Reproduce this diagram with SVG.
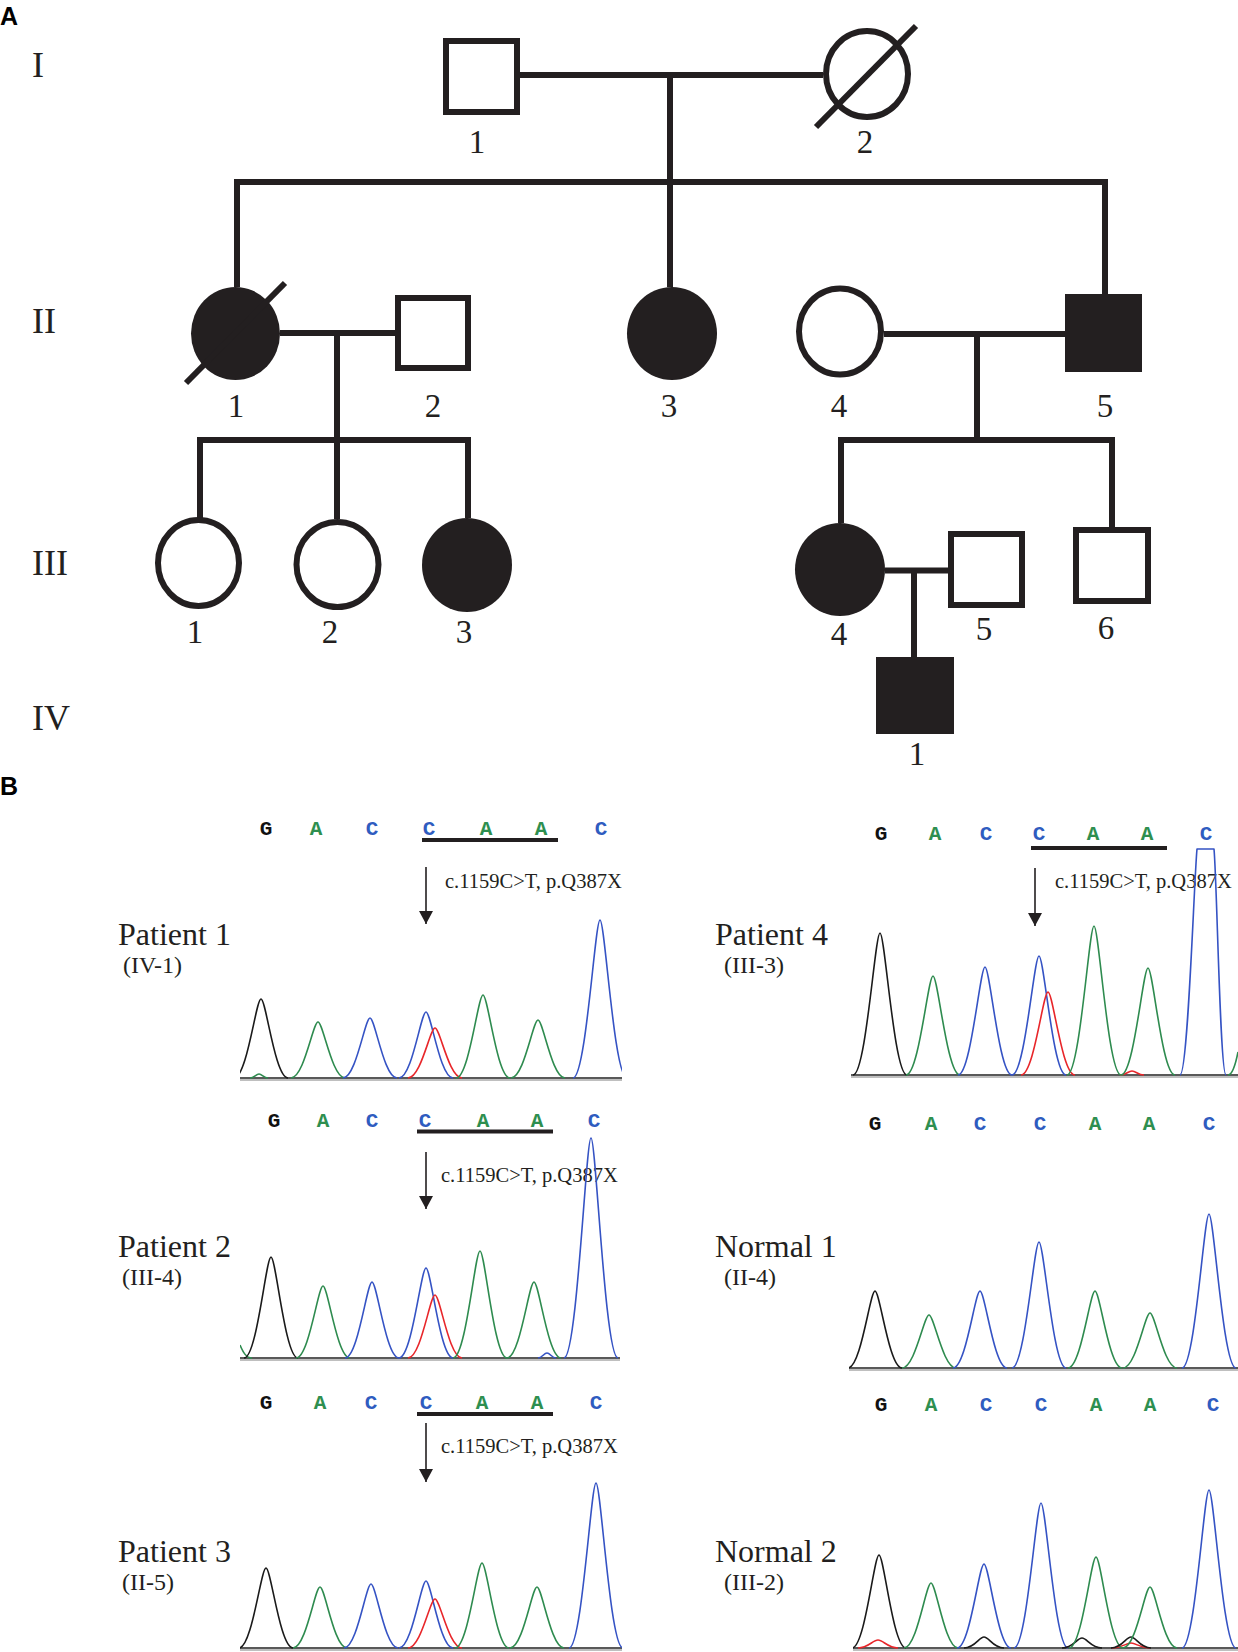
<svg xmlns="http://www.w3.org/2000/svg" width="1238" height="1652" viewBox="0 0 1238 1652">
<style>
.ln{fill:none;stroke:#231f20;stroke-width:6;stroke-linecap:butt;stroke-linejoin:miter}
.open{fill:#fff;stroke:#231f20;stroke-width:6}
.aff{fill:#231f20;stroke:none}
.slash{stroke:#231f20;stroke-width:6}
.gen{font-family:"Liberation Serif","Times New Roman",serif;font-size:36px;fill:#231f20}
.num{font-family:"Liberation Serif","Times New Roman",serif;font-size:33px;fill:#231f20;text-anchor:middle}
.panel{font-family:"Liberation Sans",Arial,sans-serif;font-weight:bold;font-size:25px;fill:#000}
.pt{font-family:"Liberation Serif","Times New Roman",serif;font-size:32px;fill:#231f20}
.sub{font-family:"Liberation Serif","Times New Roman",serif;font-size:24px;fill:#231f20}
.mut{font-family:"Liberation Serif","Times New Roman",serif;font-size:20.5px;fill:#231f20}
.seq{font-family:"Liberation Mono","Courier New",monospace;font-weight:bold;font-size:21px;text-anchor:middle}
.sG{fill:#111}
.sA{fill:#2e8f50}
.sC{fill:#2f5cc0}
.ul{stroke:#231f20;stroke-width:4}
.arr{stroke:#231f20;stroke-width:1.6;marker-end:url(#ah)}
.tk,.tg,.tb,.tr{fill:none;stroke-width:1.6;stroke-linejoin:round}
.tk{stroke:#1a1a1a}
.tg{stroke:#2e8b4f}
.tb{stroke:#3553c4}
.tr{stroke:#e8262a}
.base{stroke:#222;stroke-width:1.6}
.shadow{stroke:#aaa;stroke-width:1.5}
</style>
<defs>
<marker id="ah" markerUnits="userSpaceOnUse" viewBox="0 -7 13 14" markerWidth="13" markerHeight="14" refX="13" refY="0" orient="auto">
<path d="M0,-7 L13,0 L0,7 z" fill="#231f20"/>
</marker>
<clipPath id="cl1"><rect x="240" y="800" width="382" height="300"/></clipPath>
<clipPath id="cl4"><rect x="851" y="800" width="387" height="300"/></clipPath>
<clipPath id="cl2"><rect x="240" y="1100" width="380" height="280"/></clipPath>
<clipPath id="cln1"><rect x="849" y="1100" width="389" height="280"/></clipPath>
<clipPath id="cl3"><rect x="240" y="1420" width="382" height="240"/></clipPath>
<clipPath id="cln2"><rect x="853" y="1420" width="385" height="240"/></clipPath>
</defs>
<rect width="1238" height="1652" fill="#fff"/>

<text class="panel" x="0" y="25">A</text>
<text class="panel" x="0" y="795">B</text>

<g id="generations">
<text class="gen" x="32" y="77">I</text>
<text class="gen" x="32" y="333">II</text>
<text class="gen" x="32" y="575">III</text>
<text class="gen" x="32" y="730">IV</text>
</g>

<g id="connectors">
<path class="ln" d="M520,75 H823"/>
<path class="ln" d="M670,75 V287"/>
<path class="ln" d="M237,287 V182 H1105 V294"/>
<path class="ln" d="M280,333 H395"/>
<path class="ln" d="M337,333 V519"/>
<path class="ln" d="M200,518 V440 H468 V518"/>
<path class="ln" d="M884,334 H1065"/>
<path class="ln" d="M977,334 V440"/>
<path class="ln" d="M841,523 V440 H1112 V527"/>
<path class="ln" d="M885,570.5 H948"/>
<path class="ln" d="M914,570.5 V657"/>
</g>

<g id="I-1"><rect class="open" x="446" y="41" width="71" height="71"/><text class="num" x="477" y="153">1</text></g>
<g id="I-2"><ellipse class="open" cx="867" cy="74" rx="41" ry="43"/><line class="slash" x1="816" y1="127" x2="916" y2="26"/><text class="num" x="865" y="153">2</text></g>

<g id="II-1"><ellipse class="aff" cx="235.5" cy="333.5" rx="44.5" ry="46.5"/><line class="slash" x1="186" y1="383" x2="285" y2="283"/><text class="num" x="236" y="417">1</text></g>
<g id="II-2"><rect class="open" x="398" y="298" width="70" height="70"/><text class="num" x="433" y="417">2</text></g>
<g id="II-3"><ellipse class="aff" cx="672" cy="333.5" rx="45" ry="46.5"/><text class="num" x="669" y="417">3</text></g>
<g id="II-4"><ellipse class="open" cx="840" cy="331.5" rx="41" ry="43"/><text class="num" x="839" y="417">4</text></g>
<g id="II-5"><rect class="aff" x="1065" y="294" width="77" height="78"/><text class="num" x="1105" y="417">5</text></g>

<g id="III-1"><ellipse class="open" cx="198.5" cy="563" rx="40.5" ry="43"/><text class="num" x="195" y="643">1</text></g>
<g id="III-2"><ellipse class="open" cx="337.5" cy="564.5" rx="41" ry="42.5"/><text class="num" x="330" y="643">2</text></g>
<g id="III-3"><ellipse class="aff" cx="467" cy="565" rx="45" ry="47"/><text class="num" x="464" y="643">3</text></g>
<g id="III-4"><ellipse class="aff" cx="840" cy="569.5" rx="45" ry="46.5"/><text class="num" x="839" y="645">4</text></g>
<g id="III-5"><rect class="open" x="951" y="534" width="71" height="71"/><text class="num" x="984" y="640">5</text></g>
<g id="III-6"><rect class="open" x="1076" y="530" width="72" height="71"/><text class="num" x="1106" y="639">6</text></g>

<g id="IV-1"><rect class="aff" x="876" y="657" width="78" height="77"/><text class="num" x="917" y="765">1</text></g>

<!-- Panel B: Patient 1 -->
<g id="patient1">
<text class="seq sG" x="266" y="835">G</text><text class="seq sA" x="316" y="835">A</text><text class="seq sC" x="372" y="835">C</text><text class="seq sC" x="429" y="835">C</text><text class="seq sA" x="486" y="835">A</text><text class="seq sA" x="541" y="835">A</text><text class="seq sC" x="601" y="835">C</text>
<line class="ul" x1="422" y1="840" x2="558" y2="840"/>
<line class="arr" x1="426" y1="867" x2="426" y2="924"/>
<text class="mut" x="445" y="888">c.1159C&gt;T, p.Q387X</text>
<text class="pt" x="118" y="945">Patient 1</text>
<text class="sub" x="123" y="973">(IV-1)</text>
<line class="shadow" x1="240" y1="1080" x2="622" y2="1080"/>
<line class="base" x1="240" y1="1078" x2="622" y2="1078"/>
<g clip-path="url(#cl1)">
<path class="tg" d="M250,1078 C254,1078 256,1074 259,1074 C262,1074 264,1078 268,1078"/>
<path class="tk" d="M234,1078 C247,1078 256,999 261,999 C266,999 275,1078 288,1078"/>
<path class="tg" d="M291,1078 C304,1078 313,1022 318,1022 C323,1022 332,1078 345,1078"/>
<path class="tb" d="M343,1078 C356,1078 365,1018 370,1018 C375,1018 384,1078 397,1078"/>
<path class="tb" d="M399,1078 C412,1078 421,1012 426,1012 C431,1012 440,1078 453,1078"/>
<path class="tr" d="M408,1078 C421,1078 430,1028 435,1028 C440,1028 449,1078 462,1078"/>
<path class="tg" d="M456,1078 C469,1078 478,995 483,995 C488,995 497,1078 510,1078"/>
<path class="tg" d="M511,1078 C524,1078 533,1020 538,1020 C543,1020 552,1078 565,1078"/>
<path class="tb" d="M573,1078 C586,1078 595,920 600,920 C605,920 614,1078 627,1078"/>
</g>
</g>

<!-- Patient 4 -->
<g id="patient4">
<text class="seq sG" x="881" y="840">G</text><text class="seq sA" x="935" y="840">A</text><text class="seq sC" x="986" y="840">C</text><text class="seq sC" x="1039" y="840">C</text><text class="seq sA" x="1093" y="840">A</text><text class="seq sA" x="1147" y="840">A</text><text class="seq sC" x="1206" y="840">C</text>
<line class="ul" x1="1031" y1="848" x2="1167" y2="848"/>
<line class="arr" x1="1035" y1="868" x2="1035" y2="926"/>
<text class="mut" x="1055" y="888">c.1159C&gt;T, p.Q387X</text>
<text class="pt" x="715" y="945">Patient 4</text>
<text class="sub" x="724" y="973">(III-3)</text>
<line class="shadow" x1="851" y1="1077" x2="1238" y2="1077"/>
<line class="base" x1="851" y1="1075" x2="1238" y2="1075"/>
<g clip-path="url(#cl4)">
<path class="tk" d="M853,1075 C866,1075 875,933 880,933 C885,933 894,1075 907,1075"/>
<path class="tg" d="M906,1075 C919,1075 928,976 933,976 C938,976 947,1075 960,1075"/>
<path class="tb" d="M958,1075 C971,1075 980,967 985,967 C990,967 999,1075 1012,1075"/>
<path class="tb" d="M1012,1075 C1025,1075 1034,956 1039,956 C1044,956 1053,1075 1066,1075"/>
<path class="tr" d="M1021,1075 C1034,1075 1043,992 1048,992 C1053,992 1062,1075 1075,1075"/>
<path class="tr" d="M1120,1075 C1126,1075 1128,1071 1132,1071 C1136,1071 1138,1075 1144,1075"/>
<path class="tg" d="M1067,1075 C1080,1075 1089,926 1094,926 C1099,926 1108,1075 1121,1075"/>
<path class="tg" d="M1121,1075 C1134,1075 1143,968 1148,968 C1153,968 1162,1075 1175,1075"/>
<path class="tb" d="M1180,1075 C1188,1075 1194,880 1197,849 L1214,849 C1217,880 1220,1075 1226,1075"/>
<path class="tg" d="M1228,1075 C1233,1075 1236,1062 1238,1052"/>
</g>
</g>

<!-- Patient 2 -->
<g id="patient2">
<text class="seq sG" x="274" y="1127">G</text><text class="seq sA" x="323" y="1127">A</text><text class="seq sC" x="372" y="1127">C</text><text class="seq sC" x="425" y="1127">C</text><text class="seq sA" x="483" y="1127">A</text><text class="seq sA" x="537" y="1127">A</text><text class="seq sC" x="594" y="1127">C</text>
<line class="ul" x1="417" y1="1131.5" x2="553" y2="1131.5"/>
<line class="arr" x1="426" y1="1152" x2="426" y2="1209"/>
<text class="mut" x="441" y="1182">c.1159C&gt;T, p.Q387X</text>
<text class="pt" x="118" y="1257">Patient 2</text>
<text class="sub" x="122" y="1285">(III-4)</text>
<line class="shadow" x1="240" y1="1360" x2="620" y2="1360"/>
<line class="base" x1="240" y1="1358" x2="620" y2="1358"/>
<g clip-path="url(#cl2)">
<path class="tg" d="M240,1345 C243,1352 246,1358 252,1358"/>
<path class="tk" d="M244,1358 C257,1358 266,1257 271,1257 C276,1257 285,1358 298,1358"/>
<path class="tg" d="M296,1358 C309,1358 318,1286 323,1286 C328,1286 337,1358 350,1358"/>
<path class="tb" d="M345,1358 C358,1358 367,1282 372,1282 C377,1282 386,1358 399,1358"/>
<path class="tb" d="M399,1358 C412,1358 421,1268 426,1268 C431,1268 440,1358 453,1358"/>
<path class="tr" d="M408,1358 C421,1358 430,1295 435,1295 C440,1295 449,1358 462,1358"/>
<path class="tg" d="M453,1358 C466,1358 475,1251 480,1251 C485,1251 494,1358 507,1358"/>
<path class="tg" d="M507,1358 C520,1358 529,1282 534,1282 C539,1282 548,1358 561,1358"/>
<path class="tb" d="M538,1358 C542,1358 544,1353 547,1353 C550,1353 552,1358 556,1358"/>
<path class="tb" d="M564,1358 C577,1358 586,1138 591,1138 C596,1138 605,1358 618,1358"/>
</g>
</g>

<!-- Normal 1 -->
<g id="normal1">
<text class="seq sG" x="875" y="1130">G</text><text class="seq sA" x="931" y="1130">A</text><text class="seq sC" x="980" y="1130">C</text><text class="seq sC" x="1040" y="1130">C</text><text class="seq sA" x="1095" y="1130">A</text><text class="seq sA" x="1149" y="1130">A</text><text class="seq sC" x="1209" y="1130">C</text>
<text class="pt" x="715" y="1257">Normal 1</text>
<text class="sub" x="724" y="1285">(II-4)</text>
<line class="shadow" x1="849" y1="1370" x2="1238" y2="1370"/>
<line class="base" x1="849" y1="1368" x2="1238" y2="1368"/>
<g clip-path="url(#cln1)">
<path class="tk" d="M848,1368 C861,1368 870,1291 875,1291 C880,1291 889,1368 902,1368"/>
<path class="tg" d="M902,1368 C915,1368 924,1315 929,1315 C934,1315 943,1368 956,1368"/>
<path class="tb" d="M953,1368 C966,1368 975,1291 980,1291 C985,1291 994,1368 1007,1368"/>
<path class="tb" d="M1012,1368 C1025,1368 1034,1242 1039,1242 C1044,1242 1053,1368 1066,1368"/>
<path class="tg" d="M1068,1368 C1081,1368 1090,1291 1095,1291 C1100,1291 1109,1368 1122,1368"/>
<path class="tg" d="M1123,1368 C1136,1368 1145,1313 1150,1313 C1155,1313 1164,1368 1177,1368"/>
<path class="tb" d="M1182,1368 C1195,1368 1204,1214 1209,1214 C1214,1214 1223,1368 1236,1368"/>
</g>
</g>

<!-- Patient 3 -->
<g id="patient3">
<text class="seq sG" x="266" y="1409">G</text><text class="seq sA" x="320" y="1409">A</text><text class="seq sC" x="371" y="1409">C</text><text class="seq sC" x="426" y="1409">C</text><text class="seq sA" x="482" y="1409">A</text><text class="seq sA" x="537" y="1409">A</text><text class="seq sC" x="596" y="1409">C</text>
<line class="ul" x1="417" y1="1414" x2="553" y2="1414"/>
<line class="arr" x1="426" y1="1423" x2="426" y2="1482"/>
<text class="mut" x="441" y="1453">c.1159C&gt;T, p.Q387X</text>
<text class="pt" x="118" y="1562">Patient 3</text>
<text class="sub" x="122" y="1590">(II-5)</text>
<line class="shadow" x1="240" y1="1650" x2="622" y2="1650"/>
<line class="base" x1="240" y1="1648" x2="622" y2="1648"/>
<g clip-path="url(#cl3)">
<path class="tk" d="M239,1648 C252,1648 261,1568 266,1568 C271,1568 280,1648 293,1648"/>
<path class="tg" d="M293,1648 C306,1648 315,1587 320,1587 C325,1587 334,1648 347,1648"/>
<path class="tb" d="M344,1648 C357,1648 366,1584 371,1584 C376,1584 385,1648 398,1648"/>
<path class="tb" d="M399,1648 C412,1648 421,1581 426,1581 C431,1581 440,1648 453,1648"/>
<path class="tr" d="M408,1648 C421,1648 430,1599 435,1599 C440,1599 449,1648 462,1648"/>
<path class="tg" d="M455,1648 C468,1648 477,1563 482,1563 C487,1563 496,1648 509,1648"/>
<path class="tg" d="M510,1648 C523,1648 532,1587 537,1587 C542,1587 551,1648 564,1648"/>
<path class="tb" d="M569,1648 C582,1648 591,1483 596,1483 C601,1483 610,1648 623,1648"/>
</g>
</g>

<!-- Normal 2 -->
<g id="normal2">
<text class="seq sG" x="881" y="1411">G</text><text class="seq sA" x="931" y="1411">A</text><text class="seq sC" x="986" y="1411">C</text><text class="seq sC" x="1041" y="1411">C</text><text class="seq sA" x="1096" y="1411">A</text><text class="seq sA" x="1150" y="1411">A</text><text class="seq sC" x="1213" y="1411">C</text>
<text class="pt" x="715" y="1562">Normal 2</text>
<text class="sub" x="724" y="1590">(III-2)</text>
<line class="shadow" x1="853" y1="1650" x2="1238" y2="1650"/>
<line class="base" x1="853" y1="1648" x2="1238" y2="1648"/>
<g clip-path="url(#cln2)">
<path class="tr" d="M858,1648 C868,1648 873,1640 878,1640 C883,1640 888,1648 898,1648"/>
<path class="tr" d="M1112,1648 C1122,1648 1126,1643 1131,1643 C1136,1643 1140,1648 1150,1648"/>
<path class="tk" d="M852,1648 C865,1648 874,1555 879,1555 C884,1555 893,1648 906,1648"/>
<path class="tg" d="M904,1648 C917,1648 926,1583 931,1583 C936,1583 945,1648 958,1648"/>
<path class="tb" d="M957,1648 C970,1648 979,1564 984,1564 C989,1564 998,1648 1011,1648"/>
<path class="tk" d="M964,1648 C975,1648 979,1637 984,1637 C989,1637 993,1648 1004,1648"/>
<path class="tb" d="M1014,1648 C1027,1648 1036,1503 1041,1503 C1046,1503 1055,1648 1068,1648"/>
<path class="tk" d="M1062,1648 C1073,1648 1077,1638 1082,1638 C1087,1638 1091,1648 1102,1648"/>
<path class="tg" d="M1069,1648 C1082,1648 1091,1557 1096,1557 C1101,1557 1110,1648 1123,1648"/>
<path class="tk" d="M1111,1648 C1122,1648 1126,1637 1131,1637 C1136,1637 1140,1648 1151,1648"/>
<path class="tg" d="M1123,1648 C1136,1648 1145,1587 1150,1587 C1155,1587 1164,1648 1177,1648"/>
<path class="tb" d="M1182,1648 C1195,1648 1204,1490 1209,1490 C1214,1490 1223,1648 1236,1648"/>
</g>
</g>
</svg>
